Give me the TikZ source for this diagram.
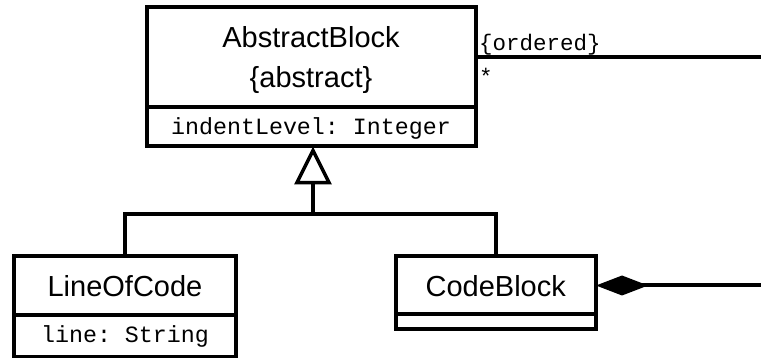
\documentclass[tikz,border=0pt]{standalone}
\usepackage{fontspec}
\setsansfont{Liberation Sans}
\setmonofont{Liberation Mono}
\usetikzlibrary{arrows.meta,positioning}
\begin{document}
\begin{tikzpicture}[x=1pt,y=-1pt,
  box/.style={draw,line width=4pt,rectangle,inner sep=0pt,outer sep=0pt},
  txt/.style={inner sep=0pt,anchor=base,font=\sffamily\fontsize{29}{38}\selectfont},
  mono/.style={inner sep=0pt,anchor=base,font=\ttfamily\fontsize{23.3}{26}\selectfont},
  lbl/.style={inner sep=0pt,anchor=base west,font=\ttfamily\fontsize{22.5}{26}\selectfont},
  conn/.style={line width=4pt}]
\useasboundingbox (0,0) rectangle (761,358);
% AbstractBlock
\node[box,minimum width=329pt,minimum height=100pt] (ab) at (311,57.5) {};
\node[box,minimum width=329pt,minimum height=39pt] (aba) at (311,127) {};
\node[txt] (abn) at (311,48) {AbstractBlock};
\node[txt] (abs) at (311,88) {\{abstract\}};
\node[mono] (abt) at (311,134.5) {indentLevel: Integer};
% LineOfCode
\node[box,minimum width=222.5pt,minimum height=58.5pt] (loc) at (125,285.75) {};
\node[box,minimum width=222.5pt,minimum height=41.5pt] (loca) at (125,335.75) {};
\node[txt] (locn) at (125,297) {LineOfCode};
\node[mono] (loct) at (125,342) {line: String};
% CodeBlock
\node[box,minimum width=200.5pt,minimum height=58pt] (cb) at (495.75,285.5) {};
\node[box,minimum width=200.5pt,minimum height=15pt] (cba) at (495.75,322) {};
\node[txt] (cbn) at (495.75,297) {CodeBlock};
% generalization
\coordinate (j) at (313,214);
\coordinate (t) at (313,146.5);
\draw[conn] (loc.north) |- (j) -| (cb.north);
\draw[conn,-{Triangle[open,length=38pt,width=37pt,line width=3.5pt]}] (j) -- (t);
% association
\coordinate (r1) at (761,57.5);
\draw[conn] (ab.east) -- (r1);
\node[lbl] (ord) at (479,51) {\{ordered\}};
\node[lbl] (star) at (479,85) {*};
% composition
\coordinate (r2) at (761,285.5);
\draw[conn,-{Diamond[length=52pt,width=20pt]}] (r2) -- (cb.east);
\end{tikzpicture}
\end{document}
